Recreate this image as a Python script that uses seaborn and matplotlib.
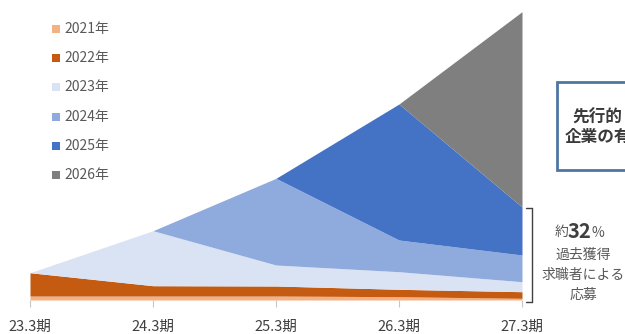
import matplotlib
matplotlib.use("Agg")
import matplotlib.pyplot as plt
from matplotlib.patches import Rectangle
from matplotlib.lines import Line2D
import seaborn as sns

# ---- data ----
periods = ["23.3期", "24.3期", "25.3期", "26.3期", "27.3期"]
years = ["2021年", "2022年", "2023年", "2024年", "2025年", "2026年"]
v2021 = [4.0, 4.0, 4.0, 3.3, 1.7]
v2022 = [23.3, 10.3, 10.0, 7.4, 6.6]
v2023 = [0.0, 55.0, 21.0, 17.6, 10.0]
v2024 = [0.0, 0.0, 86.7, 31.7, 26.7]
v2025 = [0.0, 0.0, 0.0, 136.0, 48.0]
v2026 = [0.0, 0.0, 0.0, 0.0, 195.3]
colors = ["#F4B183", "#C55A11", "#DAE3F3", "#8FAADC", "#4472C4", "#7F7F7F"]

sns.set_theme(style="white")
plt.rcParams["font.family"] = ["Noto Sans CJK JP", "DejaVu Sans"]

W, H = 625, 334
fig = plt.figure(figsize=(W / 100, H / 100), dpi=100)
fig.patch.set_facecolor("white")


def px(x, y):
    return x / W, 1 - y / H


ax = fig.add_axes([30 / W, 34 / H, 492 / W, 300 / H])
xs = list(range(len(periods)))
ax.stackplot(xs, v2021, v2022, v2023, v2024, v2025, v2026,
             colors=colors, linewidth=0)
ax.set_xlim(0, len(periods) - 1)
ax.set_ylim(0, 300)
for s in ax.spines.values():
    s.set_visible(False)
ax.set_yticks([])
ax.set_xticks(xs)
ax.set_xticklabels(periods, fontsize=10.5, color="#404040")
ax.tick_params(axis="x", direction="out", length=5, width=0.8,
               color="#C8C8C8", pad=9, bottom=True)
ax.set_facecolor("none")

# ---- legend (manual, left column) ----
for i, (lab, c) in enumerate(zip(years, colors)):
    yc = 29 + 29.2 * i
    x0, y0 = px(52, yc + 4)
    fig.add_artist(Rectangle((x0, y0), 8 / W, 8 / H, transform=fig.transFigure,
                             facecolor=c, edgecolor="none"))
    tx, ty = px(64, yc)
    fig.text(tx, ty, lab, fontsize=10, color="#595959", ha="left", va="center")

# ---- bracket ----
bc = "#404040"
for (xa, ya, xb, yb) in [(531.5, 208, 531.5, 302), (526, 208, 531.5, 208),
                         (526, 302, 531.5, 302)]:
    p1 = px(xa, ya)
    p2 = px(xb, yb)
    fig.add_artist(Line2D([p1[0], p2[0]], [p1[1], p2[1]], transform=fig.transFigure,
                          color=bc, lw=1))

# ---- annotation text ----
fig.text(*px(555, 232), "約", fontsize=10, color="#595959", ha="left", va="center")
fig.text(*px(568, 231), "32", fontsize=14.5, fontweight="bold", color="#404040",
         ha="left", va="center")
fig.text(*px(591, 233), "%", fontsize=10, color="#595959", ha="left", va="center")
fig.text(*px(583, 255), "過去獲得", fontsize=10, color="#595959", ha="center", va="center")
fig.text(*px(583, 275), "求職者による", fontsize=10, color="#595959", ha="center", va="center")
fig.text(*px(583, 295), "応募", fontsize=10, color="#595959", ha="center", va="center")

# ---- clipped box at right ----
bx, by = px(557, 170)
fig.add_artist(Rectangle((bx, by), 120 / W, 88 / H, transform=fig.transFigure,
                         facecolor="white", edgecolor="#4E76A3", lw=2))
fig.text(*px(572, 118), "先行的", fontsize=12, fontweight="bold", color="#3A3A3A",
         ha="left", va="center")
fig.text(*px(565, 137), "企業の有", fontsize=12, fontweight="bold", color="#3A3A3A",
         ha="left", va="center")

fig.savefig("out.png", dpi=100, facecolor="white")
